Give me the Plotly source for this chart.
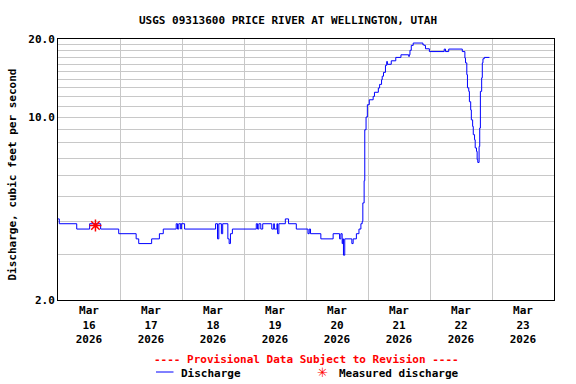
import plotly.graph_objects as go

# Discharge record (time, cfs)
times = [
    "2026-03-16 00:00", "2026-03-16 00:30", "2026-03-16 07:15", "2026-03-16 12:15", "2026-03-16 16:30",
    "2026-03-16 23:30", "2026-03-17 06:15", "2026-03-17 07:15", "2026-03-17 12:15", "2026-03-17 15:15",
    "2026-03-17 16:45", "2026-03-17 21:45", "2026-03-17 22:15", "2026-03-17 22:45", "2026-03-17 23:30",
    "2026-03-17 23:45", "2026-03-18 01:00", "2026-03-18 13:00", "2026-03-18 13:45", "2026-03-18 14:15",
    "2026-03-18 15:15", "2026-03-18 15:45", "2026-03-18 17:45", "2026-03-18 18:15", "2026-03-18 18:45",
    "2026-03-18 19:30", "2026-03-19 04:45", "2026-03-19 05:15", "2026-03-19 05:45", "2026-03-19 06:30",
    "2026-03-19 07:15", "2026-03-19 10:45", "2026-03-19 11:30", "2026-03-19 11:45", "2026-03-19 12:45",
    "2026-03-19 13:00", "2026-03-19 13:30", "2026-03-19 16:00", "2026-03-19 17:15", "2026-03-19 20:15",
    "2026-03-20 00:45", "2026-03-20 01:15", "2026-03-20 01:45", "2026-03-20 05:45", "2026-03-20 10:30",
    "2026-03-20 13:00", "2026-03-20 13:30", "2026-03-20 14:00", "2026-03-20 14:15", "2026-03-20 14:30",
    "2026-03-20 15:00", "2026-03-20 17:45", "2026-03-20 18:15", "2026-03-20 19:30", "2026-03-20 20:30",
    "2026-03-20 21:15", "2026-03-20 21:45", "2026-03-20 22:00", "2026-03-20 22:30", "2026-03-20 22:45",
    "2026-03-20 23:15", "2026-03-20 23:45", "2026-03-21 00:30", "2026-03-21 02:00", "2026-03-21 02:30",
    "2026-03-21 04:00", "2026-03-21 04:30", "2026-03-21 05:15", "2026-03-21 05:30", "2026-03-21 06:00",
    "2026-03-21 06:45", "2026-03-21 07:15", "2026-03-21 07:30", "2026-03-21 09:00", "2026-03-21 10:45",
    "2026-03-21 12:45", "2026-03-21 15:45", "2026-03-21 16:00", "2026-03-21 16:15", "2026-03-21 16:45",
    "2026-03-21 17:30", "2026-03-21 21:15", "2026-03-21 21:45", "2026-03-21 22:15", "2026-03-21 23:45",
    "2026-03-22 05:30", "2026-03-22 06:00", "2026-03-22 07:15", "2026-03-22 12:30", "2026-03-22 13:30",
    "2026-03-22 13:45", "2026-03-22 14:15", "2026-03-22 14:30", "2026-03-22 15:00", "2026-03-22 15:15",
    "2026-03-22 15:45", "2026-03-22 16:00", "2026-03-22 16:30", "2026-03-22 16:45", "2026-03-22 17:15",
    "2026-03-22 17:30", "2026-03-22 18:00", "2026-03-22 18:15", "2026-03-22 18:30", "2026-03-22 19:00",
    "2026-03-22 19:15", "2026-03-22 19:30", "2026-03-22 20:00", "2026-03-22 20:15", "2026-03-22 20:30",
    "2026-03-22 21:00", "2026-03-22 23:00",
]
discharge = [
    4.09, 3.92, 3.74, 3.92, 3.74,
    3.59, 3.43, 3.29, 3.43, 3.59,
    3.74, 3.92, 3.74, 3.92, 3.74,
    3.92, 3.74, 3.92, 3.43, 3.92,
    3.59, 3.92, 3.43, 3.29, 3.59,
    3.74, 3.92, 3.74, 3.92, 3.74,
    3.92, 3.74, 3.92, 3.74, 3.92,
    3.59, 3.92, 4.09, 3.92, 3.74,
    3.59, 3.74, 3.59, 3.43, 3.59,
    3.43, 3.59, 3.29, 3.43, 2.97,
    3.43, 3.29, 3.43, 3.59, 3.74,
    3.92, 4.00, 4.71, 5.73, 8.98,
    10.05, 11.2, 11.7, 12.05, 12.5,
    12.98, 13.4, 13.96, 14.4, 14.9,
    15.85, 16.4, 16.0, 16.5, 17.0,
    17.4, 17.15, 17.4, 18.1, 18.9,
    19.3, 19.0, 18.9, 18.35, 17.9,
    18.3, 17.9, 18.3, 17.9, 16.9,
    16.2, 14.6, 13.0, 12.6, 11.5,
    10.7, 9.8, 9.25, 8.6, 8.22,
    7.65, 7.42, 6.9, 6.73, 7.75,
    9.12, 12.6, 14.2, 16.2, 16.8,
    17.0, 17.0,
]

measured_times = ["2026-03-16 14:30"]
measured_values = [3.86]

day_labels = ["Mar<br>16<br>2026", "Mar<br>17<br>2026", "Mar<br>18<br>2026", "Mar<br>19<br>2026",
              "Mar<br>20<br>2026", "Mar<br>21<br>2026", "Mar<br>22<br>2026", "Mar<br>23<br>2026"]
day_noons = ["2026-03-%02d 12:00" % d for d in range(16, 24)]
day_midnights = ["2026-03-%02d 00:00" % d for d in range(16, 25)]

y_grid = list(range(2, 21))
y_labels = {2: "2.0", 10: "10.0", 20: "20.0"}

FONT = "DejaVu Sans Mono"

fig = go.Figure()
fig.add_trace(go.Scatter(x=times, y=discharge, mode="lines", line=dict(color="#0000ff", width=1, shape="hv"),
                         showlegend=False, hoverinfo="x+y"))
fig.add_trace(go.Scatter(x=measured_times, y=measured_values, mode="markers",
                         marker=dict(symbol="asterisk-open", size=10, color="red", line=dict(color="red", width=1.5)),
                         showlegend=False))

fig.update_layout(
    width=576, height=384,
    margin=dict(l=58, r=22, t=39, b=84, autoexpand=False),
    paper_bgcolor="white", plot_bgcolor="white",
    font=dict(family=FONT, size=11, color="black"),
    title=dict(text="<b>USGS 09313600 PRICE RIVER AT WELLINGTON, UTAH</b>", x=0.5, xref="container",
               y=1 - 20 / 384, yref="container", yanchor="middle", xanchor="center",
               font=dict(family=FONT, size=11, color="black")),
)

fig.update_xaxes(
    type="date", range=["2026-03-16", "2026-03-24"], automargin=False,
    tickmode="array", tickvals=day_noons, ticktext=["<b>%s</b>" % t for t in day_labels],
    showgrid=False, ticks="", showline=True, linecolor="black", linewidth=1, mirror=True,
    tickfont=dict(family=FONT, size=11, color="black"),
    minor=dict(tickmode="array", tickvals=day_midnights, showgrid=True, gridcolor="#c8c8c8", gridwidth=1, ticks=""),
    zeroline=False,
)
fig.update_yaxes(
    type="log", range=[0.30103, 1.30103], automargin=False,
    tickmode="array", tickvals=y_grid, ticktext=["<b>%s</b>" % y_labels.get(v, "") for v in y_grid],
    showgrid=True, gridcolor="#c8c8c8", gridwidth=1, ticks="",
    showline=True, linecolor="black", linewidth=1, mirror=True,
    tickfont=dict(family=FONT, size=11, color="black"),
    zeroline=False,
)

# Y-axis title
fig.add_annotation(text="<b>Discharge, cubic feet per second</b>", xref="paper", yref="paper",
                   x=(12 - 58) / 496, y=(300 - 174.5) / 261, textangle=-90, showarrow=False,
                   xanchor="center", yanchor="middle", font=dict(family=FONT, size=11, color="black"))

# Footer / legend
fig.add_annotation(text="<b>---- Provisional Data Subject to Revision ----</b>", xref="paper", yref="paper",
                   x=0.5, y=(300 - 359) / 261, showarrow=False, xanchor="center", yanchor="middle",
                   font=dict(family=FONT, size=11, color="red"))
fig.add_shape(type="line", xref="paper", yref="paper", x0=(156 - 58) / 496, x1=(173.5 - 58) / 496,
              y0=(300 - 372) / 261, y1=(300 - 372) / 261, line=dict(color="#0000ff", width=1))
fig.add_annotation(text="<b>Discharge</b>", xref="paper", yref="paper",
                   x=(179 - 58) / 496, y=(300 - 373) / 261, showarrow=False, xanchor="left", yanchor="middle",
                   font=dict(family=FONT, size=11, color="black"))
fig.add_annotation(text="✳", xref="paper", yref="paper",
                   x=(322.5 - 58) / 496, y=(300 - 372.5) / 261, showarrow=False, xanchor="center", yanchor="middle",
                   font=dict(family="DejaVu Sans", size=13, color="red"))
fig.add_annotation(text="<b>Measured discharge</b>", xref="paper", yref="paper",
                   x=(336.5 - 58) / 496, y=(300 - 373) / 261, showarrow=False, xanchor="left", yanchor="middle",
                   font=dict(family=FONT, size=11, color="black"))

fig.write_html("out.html", config={"displayModeBar": False},
               post_script="document.body.style.margin='0';document.body.style.overflow='hidden';")
